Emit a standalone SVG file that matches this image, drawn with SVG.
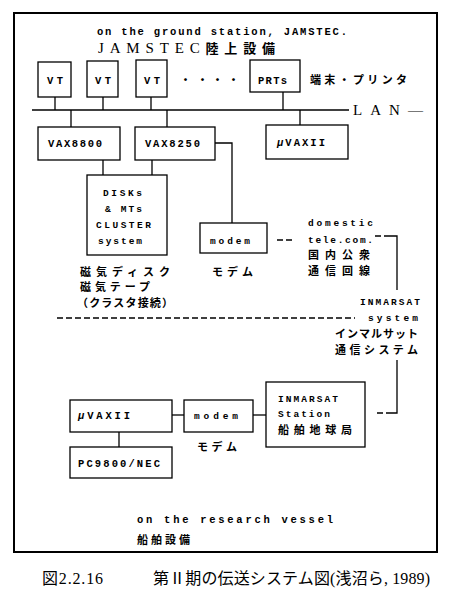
<svg xmlns="http://www.w3.org/2000/svg" width="450" height="592" viewBox="0 0 450 592">
<style>
.b{fill:#fff;stroke:#000;stroke-width:1.3}
.c{fill:none;stroke:#000;stroke-width:1.3}
.d{fill:none;stroke:#000;stroke-width:1.3;stroke-dasharray:6 3}
.m{font-family:"Liberation Mono","DejaVu Sans Mono",monospace;font-weight:bold;font-size:10.5px;fill:#000}
.n{font-family:"Liberation Mono","DejaVu Sans Mono",monospace;font-weight:bold;font-size:9.5px;fill:#000}
.j{font-family:"Noto Sans CJK JP",sans-serif;font-weight:bold;font-size:11px;fill:#000}
.s{font-family:"Liberation Serif","Noto Sans CJK JP",serif;font-size:15px;fill:#000}
.cap{font-family:"Liberation Serif","Noto Sans CJK JP",serif;font-size:16px;fill:#000}
</style>
<rect x="0" y="0" width="450" height="592" fill="#fff"/>
<rect x="14" y="13" width="423" height="539" fill="none" stroke="#000" stroke-width="2"/>
<g id="titles">
<text class="m" x="97" y="35" textLength="250" lengthAdjust="spacing">on the ground station, JAMSTEC.</text>
<text class="s" x="98" y="53" textLength="177" lengthAdjust="spacing">JAMSTEC<tspan font-family="Noto Sans CJK JP" font-weight="bold" font-size="13">陸上設備</tspan></text>
<text class="j" x="310" y="84" textLength="97" lengthAdjust="spacing">端末・プリンタ</text>
<text class="j" x="180 197 212 228" y="84">・・・・</text>
<text class="s" x="353" y="115" textLength="70" lengthAdjust="spacing">LAN—</text>
<text class="m" x="137" y="523" textLength="196" lengthAdjust="spacing">on the research vessel</text>
<text class="j" x="137" y="544" textLength="53" lengthAdjust="spacing">船舶設備</text>
<text class="cap" x="42" y="584" textLength="61" lengthAdjust="spacing">図2.2.16</text>
<text class="cap" x="153" y="584" textLength="277" lengthAdjust="spacing">第Ⅱ期の伝送システム図(浅沼ら, 1989)</text>
</g>
<g id="connectors">
<line class="c" x1="32" y1="110" x2="349" y2="110" stroke-width="1.6"/>
<line class="c" x1="55" y1="97" x2="55" y2="110"/>
<line class="c" x1="103" y1="97" x2="103" y2="110"/>
<line class="c" x1="151" y1="97" x2="151" y2="110"/>
<line class="c" x1="283" y1="92" x2="283" y2="110"/>
<line class="c" x1="71" y1="110" x2="71" y2="127"/>
<line class="c" x1="167" y1="110" x2="167" y2="127"/>
<line class="c" x1="300" y1="110" x2="300" y2="125"/>
<line class="c" x1="103" y1="160" x2="103" y2="175"/>
<line class="c" x1="152" y1="160" x2="152" y2="175"/>
<polyline class="c" points="215,143 232,143 232,223"/>
<line class="d" x1="277" y1="240" x2="294" y2="240" stroke-dasharray="4 2.5"/>
<line class="d" x1="375" y1="236" x2="390" y2="236" stroke-dasharray="4 2.5"/>
<polyline class="c" points="390,236 397,236 397,290"/>
<line class="d" x1="57" y1="318" x2="355" y2="318"/>
<polyline class="c" points="397,360 397,413 391,413"/>
<line class="d" x1="377" y1="413" x2="391" y2="413" stroke-dasharray="4 2.5"/>
<line class="c" x1="172" y1="415" x2="184" y2="415"/>
<line class="c" x1="253" y1="415" x2="266" y2="415"/>
<line class="c" x1="119" y1="432" x2="119" y2="447"/>
</g>
<g id="vt1"><rect class="b" x="38" y="62" width="33" height="35"/><text class="m" x="47" y="84" textLength="16" lengthAdjust="spacing">VT</text></g>
<g id="vt2"><rect class="b" x="87" y="61" width="31" height="36"/><text class="m" x="95" y="84" textLength="16" lengthAdjust="spacing">VT</text></g>
<g id="vt3"><rect class="b" x="136" y="60" width="31" height="37"/><text class="m" x="144" y="84" textLength="16" lengthAdjust="spacing">VT</text></g>
<g id="prts"><rect class="b" x="250" y="60" width="50" height="32"/><text class="m" x="258" y="84" textLength="29" lengthAdjust="spacing">PRTs</text></g>
<g id="vax8800"><rect class="b" x="38" y="127" width="82" height="33"/><text class="m" x="48" y="147" textLength="54" lengthAdjust="spacing">VAX8800</text></g>
<g id="vax8250"><rect class="b" x="135" y="127" width="80" height="33"/><text class="m" x="145" y="147" textLength="55" lengthAdjust="spacing">VAX8250</text></g>
<g id="uvax-ground"><rect class="b" x="266" y="125" width="82" height="34"/><text class="m" x="277" y="146" textLength="48" lengthAdjust="spacing"><tspan font-style="italic">μ</tspan>VAXII</text></g>
<g id="disks">
<rect class="b" x="87" y="175" width="80" height="80"/>
<text class="n" x="103" y="196" textLength="39" lengthAdjust="spacing">DISKs</text>
<text class="n" x="105" y="212" textLength="37" lengthAdjust="spacing">&amp; MTs</text>
<text class="n" x="96" y="228" textLength="55" lengthAdjust="spacing">CLUSTER</text>
<text class="n" x="98" y="244" textLength="44" lengthAdjust="spacing">system</text>
<text class="j" x="80" y="276" textLength="90" lengthAdjust="spacing">磁気ディスク</text>
<text class="j" x="80" y="291" textLength="70" lengthAdjust="spacing">磁気テープ</text>
<text class="j" x="77" y="307" textLength="96" lengthAdjust="spacing">（クラスタ接続）</text>
</g>
<g id="modem-ground">
<rect class="b" x="200" y="223" width="67" height="30"/>
<text class="n" x="210" y="244" textLength="40" lengthAdjust="spacing">modem</text>
<text class="j" x="212" y="276" textLength="41" lengthAdjust="spacing">モデム</text>
</g>
<g id="domestic">
<text class="n" x="308" y="226" textLength="65" lengthAdjust="spacing">domestic</text>
<text class="n" x="308" y="243" textLength="65" lengthAdjust="spacing">tele.com.</text>
<text class="j" x="308" y="259" textLength="62" lengthAdjust="spacing">国内公衆</text>
<text class="j" x="308" y="275" textLength="62" lengthAdjust="spacing">通信回線</text>
</g>
<g id="inmarsat-system">
<text class="n" x="360" y="305" textLength="60" lengthAdjust="spacing">INMARSAT</text>
<text class="n" x="368" y="321" textLength="50" lengthAdjust="spacing">system</text>
<text class="j" x="335" y="338" textLength="83" lengthAdjust="spacing">インマルサット</text>
<text class="j" x="335" y="354" textLength="83" lengthAdjust="spacing">通信システム</text>
</g>
<g id="inmarsat-station">
<rect class="b" x="266" y="382" width="99" height="65"/>
<text class="n" x="278" y="402" textLength="60" lengthAdjust="spacing">INMARSAT</text>
<text class="n" x="278" y="417" textLength="52" lengthAdjust="spacing">Station</text>
<text class="j" x="278" y="434" textLength="74" lengthAdjust="spacing">船舶地球局</text>
</g>
<g id="modem-vessel">
<rect class="b" x="184" y="400" width="69" height="32"/>
<text class="n" x="194" y="419" textLength="44" lengthAdjust="spacing">modem</text>
<text class="j" x="197" y="451" textLength="40" lengthAdjust="spacing">モデム</text>
</g>
<g id="uvax-vessel"><rect class="b" x="70" y="400" width="102" height="32"/><text class="m" x="78" y="419" textLength="52" lengthAdjust="spacing"><tspan font-style="italic">μ</tspan>VAXII</text></g>
<g id="pc9800"><rect class="b" x="70" y="447" width="102" height="31"/><text class="m" x="78" y="467" textLength="82" lengthAdjust="spacing">PC9800/NEC</text></g>
</svg>
